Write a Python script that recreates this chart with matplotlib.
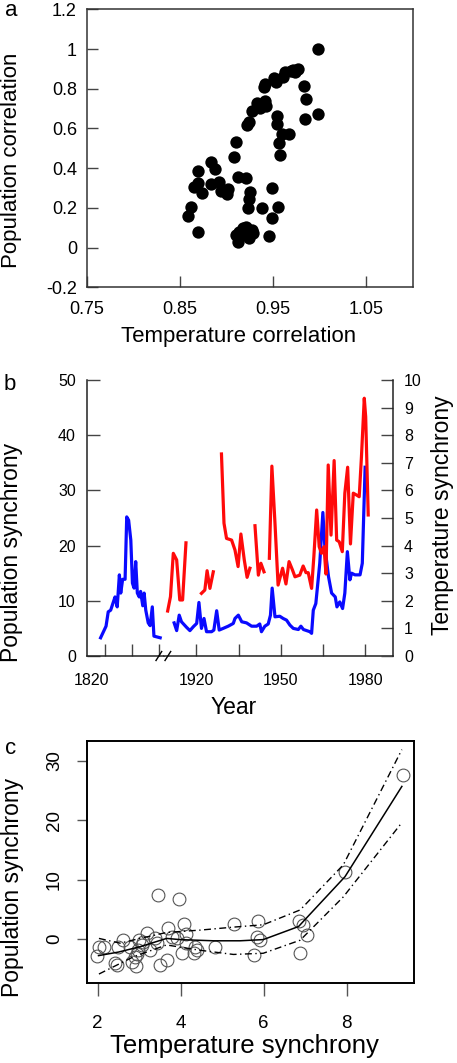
import numpy as np
import matplotlib
matplotlib.use('Agg')
import matplotlib.pyplot as plt
from matplotlib.lines import Line2D
from matplotlib.transforms import ScaledTranslation

plt.rcParams['font.family'] = ['Liberation Sans', 'DejaVu Sans']

# ---- panel a: population vs temperature correlation
temp_corr = [0.998, 0.859, 0.862, 0.869, 0.870, 0.865, 0.870, 0.874, 0.883, 0.888,
             0.883, 0.892, 0.894, 0.901, 0.902, 0.908, 0.910, 0.912, 0.921, 0.922,
             0.924, 0.928, 0.925, 0.924, 0.923, 0.910, 0.912, 0.913, 0.916, 0.921,
             0.924, 0.927, 0.929, 0.938, 0.946, 0.949, 0.949, 0.955, 0.933, 0.936,
             0.941, 0.943, 0.940, 0.941, 0.951, 0.953, 0.961, 0.963, 0.969, 0.974,
             0.977, 0.972, 0.954, 0.954, 0.960, 0.967, 0.956, 0.958, 0.983, 0.985,
             0.984, 0.998, 0.938, 0.918]
pop_corr = [1.00, 0.159, 0.202, 0.080, 0.386, 0.306, 0.326, 0.276, 0.431, 0.398,
            0.318, 0.328, 0.284, 0.268, 0.293, 0.457, 0.532, 0.356, 0.348, 0.615,
            0.632, 0.686, 0.281, 0.247, 0.197, 0.064, 0.030, 0.080, 0.064, 0.105,
            0.050, 0.089, 0.072, 0.197, 0.060, 0.147, 0.298, 0.206, 0.727, 0.704,
            0.736, 0.711, 0.808, 0.824, 0.855, 0.833, 0.861, 0.883, 0.891, 0.883,
            0.900, 0.895, 0.661, 0.624, 0.574, 0.574, 0.527, 0.465, 0.816, 0.746,
            0.649, 0.674, 0.720, 0.100]

# ---- panel b: synchrony time series (broken year axis)
pop_early_year = [1818.4, 1820.4, 1821.2, 1822.1, 1823.1, 1823.7, 1824.5, 1825.3, 1825.8,
                  1826.5, 1827.4, 1828.0, 1828.7, 1829.5, 1830.1, 1830.7, 1831.3, 1831.9,
                  1832.6, 1833.1, 1833.9, 1834.4, 1835.0, 1835.9, 1836.6, 1837.4, 1838.0,
                  1840.3]
pop_early = [3.3, 5.4, 8.0, 8.3, 9.8, 10.7, 8.9, 14.7, 11.4,
             13.9, 13.9, 25.2, 24.6, 21.0, 13.2, 12.3, 17.1, 11.4,
             10.7, 11.7, 9.1, 11.4, 8.3, 6.0, 5.5, 8.9, 3.6,
             3.3]

pop_late_year = [1912.1, 1913.0, 1913.9, 1914.7, 1916.5, 1917.7, 1918.9, 1920.1, 1920.9,
                 1921.8, 1922.7, 1923.6, 1925.4, 1926.2, 1927.2, 1928.1, 1929.5, 1931.3,
                 1933.1, 1933.7, 1934.9, 1936.1, 1937.8, 1939.6, 1941.4, 1942.5, 1943.1,
                 1944.3, 1945.5, 1946.3, 1946.9, 1947.9, 1949.6, 1950.8, 1952.0, 1953.2,
                 1954.4, 1956.2, 1957.1, 1958.0, 1960.3, 1960.9, 1961.5, 1962.4, 1963.8,
                 1964.9, 1965.6, 1966.9, 1968.0, 1969.3, 1969.9, 1970.9, 1971.9, 1972.7,
                 1973.6, 1974.5, 1975.1, 1976.3, 1978.1, 1978.9, 1979.9]
pop_late = [6.0, 4.6, 7.4, 6.2, 5.2, 4.6, 5.3, 5.9, 9.7,
            5.0, 6.8, 4.4, 4.4, 4.7, 8.2, 4.7, 5.0, 5.4,
            5.9, 6.8, 7.4, 6.2, 6.0, 5.4, 5.4, 5.8, 4.4,
            5.4, 5.8, 7.4, 12.3, 7.1, 7.2, 6.8, 6.5, 5.6,
            5.0, 4.8, 5.4, 4.8, 4.4, 4.1, 8.3, 9.5, 16.8,
            26.0, 19.8, 14.4, 11.4, 10.7, 8.9, 9.8, 8.6, 11.4,
            18.9, 13.8, 15.0, 14.7, 14.7, 16.8, 34.2]

temp_year_1 = [1909.8, 1910.8, 1911.8, 1913.0, 1914.1, 1915.1, 1916.3]
temp_sync_1 = [1.63, 2.15, 3.72, 3.48, 2.03, 2.03, 4.10]
temp_year_2 = [1921.8, 1923.0, 1923.8, 1924.8, 1926.0]
temp_sync_2 = [2.27, 2.39, 3.09, 2.45, 3.05]
temp_year_3 = [1928.9, 1929.8, 1930.7, 1932.5, 1933.7, 1934.8, 1935.8, 1937.0, 1938.0, 1939.0]
temp_sync_3 = [7.32, 4.81, 4.26, 4.20, 3.84, 3.24, 4.42, 3.48, 2.85, 3.18]
temp_year_4 = [1940.8, 1942.0, 1942.9, 1944.0]
temp_sync_4 = [4.72, 2.93, 3.36, 3.05]
temp_year_5 = [1945.9, 1946.8, 1947.9, 1949.0, 1950.6, 1951.8, 1952.9, 1954.1, 1955.0,
               1956.7, 1957.9, 1958.9, 1959.7, 1960.9, 1961.7, 1962.7, 1963.6, 1964.4,
               1965.3, 1966.0, 1966.8, 1967.8, 1968.9, 1969.8, 1970.7, 1971.8, 1972.7,
               1973.7, 1974.7, 1975.7, 1976.9, 1977.8, 1978.6, 1979.6, 1980.1, 1981.0]
temp_sync_5 = [3.54, 6.88, 4.81, 2.57, 3.18, 2.61, 3.42, 3.12, 2.87,
               2.93, 3.26, 3.02, 3.02, 2.45, 3.60, 5.29, 3.96, 3.72,
               3.96, 2.97, 6.92, 4.38, 7.08, 4.20, 4.14, 3.78, 5.90,
               6.84, 4.06, 5.90, 5.83, 5.77, 7.22, 9.34, 8.67, 5.11]

# ---- panel c: population vs temperature synchrony with smooth fit
c_temp = [9.35, 7.96, 6.84, 6.94, 7.05, 6.88, 5.87, 5.85, 5.90, 5.77, 5.29, 4.83,
          3.45, 3.97, 4.09, 4.14, 4.02, 4.31, 4.35, 4.14, 4.39, 3.70, 3.78, 3.90,
          3.50, 3.66, 3.18, 3.38, 3.42, 3.26, 3.00, 3.06, 2.96, 2.90, 2.82, 2.92,
          2.78, 2.62, 2.50, 2.42, 2.47, 2.14, 2.03, 1.98, 3.10, 2.95]
c_pop = [27.6, 11.3, 3.1, 2.4, 0.6, -2.4, 3.0, 0.4, -0.2, -2.7, 2.5, -1.4,
         7.4, 6.7, 2.6, 0.8, -2.4, -2.4, -1.3, -0.7, -1.9, 1.8, 0.4, 0.1,
         -4.4, -3.5, 1.0, 0.1, -0.7, -1.9, -0.1, -1.0, -1.9, -3.0, -3.8, -4.5,
         -1.3, -0.2, -1.3, -4.1, -4.3, -1.3, -1.3, -2.8, -0.5, -2.5]

fit_x = [2.02, 2.50, 3.02, 3.66, 3.98, 4.79, 5.43, 5.99, 6.84, 7.96, 9.33]
fit_mid = [-2.8, -2.2, -1.3, 0.1, -0.1, -0.3, -0.3, -0.1, 2.1, 10.5, 25.7]
upper_x = [2.03, 2.54, 3.02, 3.66, 4.47, 5.27, 5.99, 6.88, 7.92, 9.33]
fit_upper = [0.1, -0.7, 0.1, 1.1, 1.5, 2.0, 2.4, 4.9, 12.5, 31.9]
lower_x = [2.03, 2.86, 3.66, 4.47, 5.27, 5.99, 6.88, 7.92, 9.33]
fit_lower = [-5.9, -3.0, -1.0, -1.9, -2.6, -2.4, -0.2, 7.1, 19.6]

W, H = 457, 1063
fig = plt.figure(figsize=(W / 100, H / 100), dpi=100)


def box(l, t, r, b):
    return [l / W, 1 - b / H, (r - l) / W, (b - t) / H]


def ftext(x, y, s, **kw):
    fig.text(x / W, 1 - y / H, s, ha='center', va='center', **kw)


# ================= panel a
axA = fig.add_axes(box(86.7, 9.3, 412.7, 287.3))
axA.plot(temp_corr, pop_corr, 'o', color='black', ms=8.9, mec='black', mew=0)
axA.set_xlim(0.75, 1.10)
axA.set_ylim(-0.2, 1.2)
axA.set_xticks([0.75, 0.85, 0.95, 1.05])
axA.set_xticklabels(['0.75', '0.85', '0.95', '1.05'])
axA.set_yticks([-0.2, 0, 0.2, 0.4, 0.6, 0.8, 1.0, 1.2])
axA.set_yticklabels(['-0.2', '0', '0.2', '0.4', '0.6', '0.8', '1', '1.2'])
axA.tick_params(direction='in', length=8, width=1, labelsize=13, color='#444444')
axA.tick_params(axis='x', pad=10)
axA.tick_params(axis='y', pad=7)
for s in axA.spines.values():
    s.set_linewidth(1.1)
    s.set_color('#333333')
ftext(239, 336, 'Temperature correlation', fontsize=16)
ftext(12, 160, 'Population correlation', fontsize=16, rotation=90)
ftext(11, 10, 'a', fontsize=16)

# ================= panel b (broken axis: early years | later years)
axL = fig.add_axes(box(87, 380, 164, 656))
axR = fig.add_axes(box(164, 380, 393, 656))
axL.plot(pop_early_year, pop_early, color='#0a0aff', lw=2.3, solid_joinstyle='round')
axR.plot(pop_late_year, pop_late, color='#0a0aff', lw=2.3, solid_joinstyle='round')
axT = axR.twinx()
for yr, ts in [(temp_year_1, temp_sync_1), (temp_year_2, temp_sync_2),
               (temp_year_3, temp_sync_3), (temp_year_4, temp_sync_4),
               (temp_year_5, temp_sync_5)]:
    axT.plot(yr, ts, color='#ff0a0a', lw=2.3, solid_joinstyle='round')

axL.set_xlim(1813.4, 1841.7)
axR.set_xlim(1908.5, 1989.8)
for ax in (axL, axR):
    ax.set_ylim(0, 50)
axT.set_ylim(0, 10)

axL.set_xticks([1820, 1830, 1840])
axL.set_xticklabels(['1820', '', ''])
axR.set_xticks([1920, 1935, 1950, 1965, 1980])
axR.set_xticklabels(['1920', '', '1950', '', '1980'])
axL.set_yticks(range(0, 51, 10))
axR.set_yticks([])
axT.set_yticks(range(0, 11))

axL.spines[['top', 'right']].set_visible(False)
axR.spines[['top', 'left', 'right']].set_visible(False)
axT.spines[['top', 'left', 'bottom']].set_visible(False)
for ax in (axL, axR, axT):
    for s in ax.spines.values():
        s.set_linewidth(1.1)
        s.set_color('#222222')
    ax.tick_params(direction='in', length=9, width=1, labelsize=11.5, color='#444444')
    ax.tick_params(axis='x', pad=12)
    ax.tick_params(axis='y', pad=8)
axR.tick_params(axis='y', left=False, labelleft=False)

# shift first label to the left, as in the original layout
for lab in axL.get_xticklabels():
    lab.set_transform(lab.get_transform() + ScaledTranslation(-0.13, 0, fig.dpi_scale_trans))

# axis break marks
for x0 in (156, 165):
    fig.add_artist(Line2D([x0 / W, (x0 + 5.7) / W], [1 - 660.5 / H, 1 - 651.5 / H],
                          transform=fig.transFigure, color='black', lw=1))

ftext(234, 708, 'Year', fontsize=16.5)
ftext(12, 552, 'Population synchrony', fontsize=16.5, rotation=90)
ftext(443, 515, 'Temperature synchrony', fontsize=16.5, rotation=90)
ftext(10, 384, 'b', fontsize=16)

# ================= panel c
axC = fig.add_axes(box(86.7, 740.7, 414.3, 983.3))
axC.plot(c_temp, c_pop, 'o', ms=9.2, mfc='none', mec='#555555', mew=0.8)
axC.plot(fit_x, fit_mid, color='black', lw=1.1)
axC.plot(upper_x, fit_upper, color='black', lw=1.0, dashes=(5, 2.5, 1, 2.5))
axC.plot(lower_x, fit_lower, color='black', lw=1.0, dashes=(5, 2.5, 1, 2.5))
axC.set_xlim(1.735, 9.63)
axC.set_ylim(-7.46, 33.4)
axC.set_xticks([2, 4, 6, 8])
axC.set_yticks([0, 10, 20, 30])
axC.tick_params(direction='out', width=1, labelsize=13.5, color='#555555')
axC.tick_params(axis='x', length=9, pad=14)
axC.tick_params(axis='y', length=7, pad=10, labelrotation=90)
for lab in axC.get_yticklabels():
    lab.set_va('center')
for s in axC.spines.values():
    s.set_linewidth(1.4)
    s.set_color('black')
ftext(244, 1046, 'Temperature synchrony', fontsize=18.5)
ftext(13, 887, 'Population synchrony', fontsize=16.5, rotation=90)
ftext(11, 748, 'c', fontsize=16)

fig.savefig('out.png', dpi=100)
